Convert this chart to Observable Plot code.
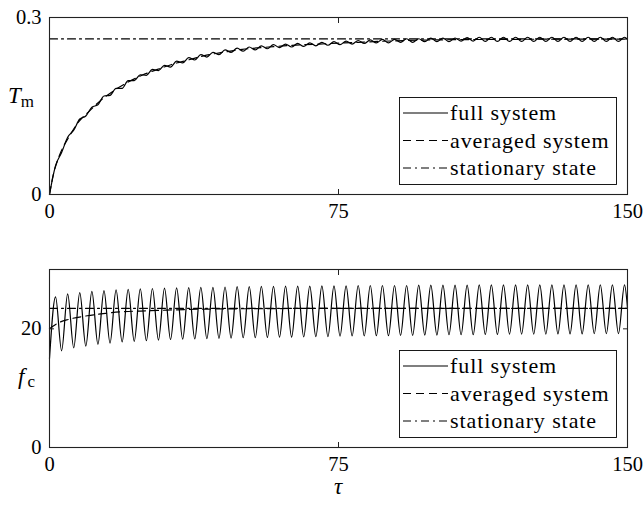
<!DOCTYPE html>
<html><head><meta charset="utf-8">
<script src="https://cdn.jsdelivr.net/npm/d3@7"></script>
<script src="https://cdn.jsdelivr.net/npm/@observablehq/plot@0.6"></script>
<style>
body{margin:0;background:#fff;}
#chart{width:643px;height:506px;}
#chart svg{display:block;}
</style></head><body><div id="chart"></div>
<script>
// ---------- data ----------
const halfPeriod = 1.5708; // spacing between successive extrema of the full system (tau units)

// top panel: T_m, full system extrema (alternating), then end value
const tmFullExtrema = [0, 0.049, 0.071, 0.097, 0.109, 0.128, 0.133, 0.148, 0.152, 0.167,
  0.168, 0.180, 0.180, 0.193, 0.193, 0.203, 0.202, 0.212, 0.210, 0.219,
  0.216, 0.226, 0.223, 0.232, 0.228, 0.237, 0.233, 0.241, 0.237, 0.245,
  0.241, 0.248, 0.243, 0.250, 0.245, 0.252, 0.247, 0.254, 0.249, 0.255,
  0.250, 0.256, 0.251, 0.257, 0.252, 0.258, 0.253, 0.259, 0.254, 0.260,
  0.255, 0.261, 0.256, 0.262, 0.257, 0.263, 0.257, 0.263, 0.258, 0.264,
  0.258, 0.264, 0.259, 0.265, 0.259, 0.265, 0.259, 0.265, 0.260, 0.266,
  0.260, 0.2665, 0.2595, 0.2665, 0.2595, 0.2665, 0.2595, 0.2665, 0.2595, 0.2665,
  0.2595, 0.2665, 0.2595, 0.2665, 0.2595, 0.2665, 0.2595, 0.2665, 0.2595, 0.2665,
  0.2595, 0.2665, 0.2595, 0.2665, 0.2595, 0.2665];
const tmFullEnd = 0.263;
const tmAvgTau = [0, 1, 2, 3, 5, 7.2, 10.6, 13.2, 16.7, 20, 24, 28, 32, 36, 40, 45, 50, 55, 60, 65, 70, 80, 90, 100, 120, 150];
const tmAvgVal = [0, 0.034, 0.056, 0.073, 0.097, 0.12, 0.143, 0.159, 0.176, 0.189, 0.202, 0.212, 0.221, 0.228, 0.235, 0.241, 0.246, 0.249, 0.2515, 0.2535, 0.255, 0.258, 0.2605, 0.262, 0.263, 0.2635];
const tmStationary = 0.2637;

// bottom panel: f_c, full system troughs (even) and peaks (odd)
const fcTroughs = [15.0, 16.3, 16.8, 17.1, 17.4, 17.6, 17.8, 17.9, 18.0, 18.1,
  18.2, 18.25, 18.3, 18.35, 18.4, 18.45, 18.5, 18.5, 18.55, 18.6,
  18.6, 18.65, 18.7, 18.7, 18.75, 18.8, 18.8, 18.85, 18.85, 18.9,
  18.9, 18.95, 18.95, 19.0, 19.0, 19.0, 19.05, 19.05, 19.1, 19.1,
  19.1, 19.1, 19.15, 19.15, 19.15, 19.2, 19.2, 19.2];
const fcPeaks = [25.4, 25.9, 26.1, 26.3, 26.45, 26.55, 26.65, 26.75, 26.8, 26.85,
  26.9, 26.95, 27.0, 27.0, 27.05, 27.1, 27.1, 27.15, 27.15, 27.2,
  27.2, 27.2, 27.25, 27.25, 27.25, 27.3, 27.3, 27.3, 27.3, 27.3,
  27.35, 27.35, 27.35, 27.35, 27.35, 27.4, 27.4, 27.4, 27.4, 27.4,
  27.4, 27.4, 27.4, 27.4, 27.4, 27.4, 27.4, 27.4];
const fcFullEnd = 23.5;
const fcAvgTau = [0, 2, 5, 9.8, 14.5, 19.3, 23.6, 28, 35, 44, 55, 70, 90, 150];
const fcAvgVal = [20.0, 20.9, 21.6, 22.2, 22.6, 22.9, 23.0, 23.1, 23.25, 23.35, 23.4, 23.45, 23.45, 23.45];
const fcStationary = 23.45;

const xTicks = [0, 75, 150];
const tmTicks = [0, 0.3];
const fcTicks = [0, 20];
const legendLabels = ["full system", "averaged system", "stationary state"];

// ---------- build tables ----------
const tmFull = tmFullExtrema.map((v, i) => ({t: i * halfPeriod, v})).concat([{t: 150, v: tmFullEnd}]);
const tmAvg = tmAvgTau.map((t, i) => ({t, v: tmAvgVal[i]}));
const tmStat = [{t: 0, v: tmStationary}, {t: 150, v: tmStationary}];
const fcExt = [];
fcTroughs.forEach((v, i) => { fcExt.push(v); if (i < fcPeaks.length) fcExt.push(fcPeaks[i]); });
const fcFull = fcExt.map((v, i) => ({t: i * halfPeriod, v})).concat([{t: 150, v: fcFullEnd}]);
const fcAvg = fcAvgTau.map((t, i) => ({t, v: fcAvgVal[i]}));
const fcStat = [{t: 0, v: fcStationary}, {t: 150, v: fcStationary}];

const font = "'Liberation Serif', serif";
const ink = "#000";
const DASH = "8,5";
const DASHDOT = "8,4,2,4";
const LW = 1.2;

function panel({height, marginTop, marginBottom, yDomain, yTicks, full, avg, stat}) {
  return Plot.plot({
    width: 643, height, marginLeft: 49, marginRight: 16, marginTop, marginBottom,
    style: {fontFamily: font, fontSize: "20.5px", color: ink, background: "white", overflow: "visible"},
    x: {domain: [0, 150], label: null},
    y: {domain: yDomain, label: null},
    marks: [
      Plot.line(stat, {x: "t", y: "v", stroke: ink, strokeWidth: LW, strokeDasharray: DASHDOT}),
      Plot.line(avg, {x: "t", y: "v", curve: "monotone-x", stroke: ink, strokeWidth: LW, strokeDasharray: DASH}),
      Plot.line(full, {x: "t", y: "v", curve: "monotone-x", stroke: ink, strokeWidth: LW}),
      Plot.frame({stroke: "#222", strokeWidth: 1.1}),
      Plot.axisX({anchor: "bottom", ticks: xTicks, tickSize: -5, tickFormat: () => "", label: null, stroke: "#222"}),
      Plot.axisX({anchor: "top", ticks: xTicks, tickSize: -5, tickFormat: () => "", label: null, stroke: "#222"}),
      Plot.axisX({anchor: "bottom", ticks: xTicks, tickSize: 0, tickPadding: 9, tickFormat: d => String(d), label: null}),
      Plot.axisY({anchor: "left", ticks: yTicks, tickSize: -5, tickFormat: () => "", label: null, stroke: "#222"}),
      Plot.axisY({anchor: "right", ticks: yTicks, tickSize: -5, tickFormat: () => "", label: null, stroke: "#222"}),
      Plot.axisY({anchor: "left", ticks: yTicks, tickSize: 0, tickPadding: 8, tickFormat: d => String(d), label: null})
    ]
  });
}

function legend(svg, y0) {
  const g = svg.append("g").attr("text-anchor", "start");
  g.append("rect").attr("x", 399.5).attr("y", y0 + 0.5).attr("width", 217).attr("height", 87)
    .attr("fill", "white").attr("stroke", ink).attr("stroke-width", 0.9);
  const dashes = [null, DASH, DASHDOT];
  legendLabels.forEach((lab, i) => {
    const cy = y0 + 16 + i * 27.5;
    g.append("line").attr("x1", 403).attr("x2", 448).attr("y1", cy).attr("y2", cy)
      .attr("stroke", ink).attr("stroke-width", LW).attr("stroke-dasharray", dashes[i]);
    g.append("text").attr("x", 450).attr("y", cy + 7).attr("fill", ink).attr("text-anchor", "start")
      .style("font-family", font).style("font-size", "22px").style("letter-spacing", "0.9px").text(lab);
  });
}

const topPanel = panel({height: 232, marginTop: 17, marginBottom: 38, yDomain: [0, 0.3], yTicks: tmTicks,
  full: tmFull, avg: tmAvg, stat: tmStat});
const bottomPanel = panel({height: 274, marginTop: 37, marginBottom: 59, yDomain: [0, 30], yTicks: fcTicks,
  full: fcFull, avg: fcAvg, stat: fcStat});

document.getElementById("chart").append(topPanel, bottomPanel);

const s1 = d3.select(topPanel);
legend(s1, 97);
const tl = s1.append("text").attr("x", 8).attr("y", 103).attr("fill", ink).attr("text-anchor", "start")
  .style("font-family", font).style("font-size", "23px");
tl.append("tspan").attr("font-style", "italic").text("T");
tl.append("tspan").attr("font-size", "17px").attr("dy", 4).text("m");

const s2 = d3.select(bottomPanel);
legend(s2, 118);
const fl = s2.append("text").attr("x", 18).attr("y", 152).attr("fill", ink).attr("text-anchor", "start")
  .style("font-family", font).style("font-size", "23px");
fl.append("tspan").attr("font-style", "italic").text("f");
fl.append("tspan").attr("font-size", "17px").attr("dx", 3).attr("dy", 3).text("c");
s2.append("text").attr("x", 338).attr("y", 262).attr("text-anchor", "middle").attr("fill", ink)
  .style("font-family", font).style("font-size", "23px").style("font-style", "italic").text("τ");
</script></body></html>
